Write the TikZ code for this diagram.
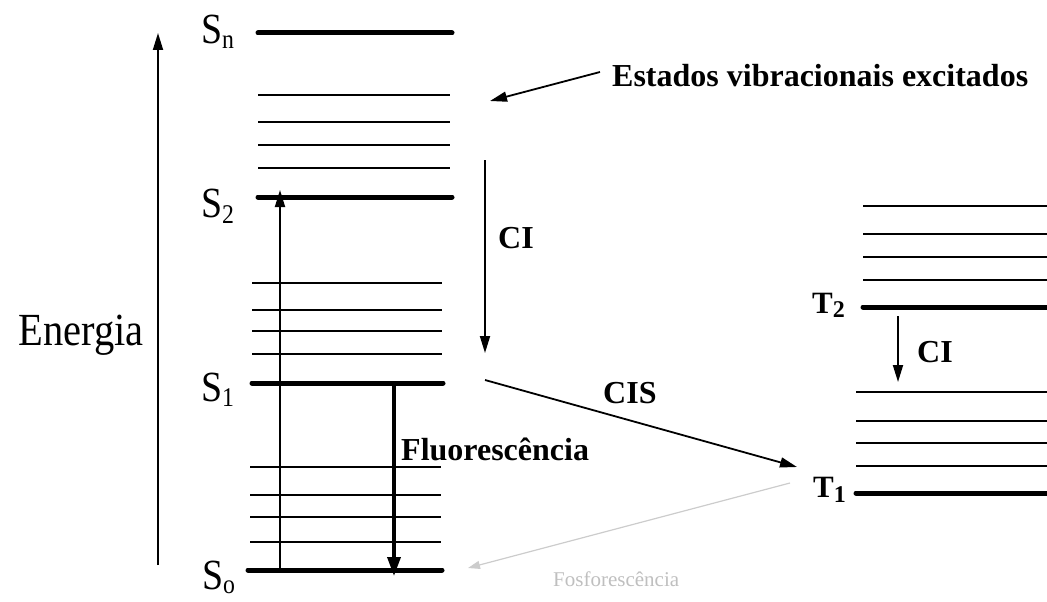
\documentclass[tikz,border=0pt]{standalone}
\usepackage{fontspec}
\setmainfont{Liberation Serif}
\usetikzlibrary{arrows.meta}
\newcommand\nrw[1]{\scalebox{0.88}[1]{#1}}
\begin{document}
\begin{tikzpicture}[x=1pt,y=-1pt,
  lvl/.style={line width=5pt, line cap=round},
  vib/.style={line width=2pt},
  arr/.style={line width=1.8pt,-{Triangle[length=17pt,width=10pt]}},
  fluo/.style={line width=3.5pt,-{Triangle[length=19pt,width=13pt]}},
  faint/.style={line width=1.2pt, draw=black!20,-{Triangle[length=12pt,width=8pt]}},
  blab/.style={font=\fontsize{32}{32}\selectfont\bfseries, inner sep=0pt, anchor=base west},
  tlab/.style={font=\fontsize{31}{31}\selectfont\bfseries, inner sep=0pt, anchor=base west},
  slab/.style={font=\fontsize{43}{43}\selectfont, inner sep=0pt, anchor=base west}]
\useasboundingbox (0,0) rectangle (1047,602);
% singlet levels
\draw[lvl] (258,33) -- (452,33);
\foreach \y in {95,122,145,168} \draw[vib] (258,\y) -- (450,\y);
\draw[lvl] (258,197) -- (452,197);
\foreach \y in {283,310,331,354} \draw[vib] (252,\y) -- (442,\y);
\draw[lvl] (252,383) -- (443,383);
\foreach \y in {467,495,517,542} \draw[vib] (250,\y) -- (441,\y);
\draw[lvl] (248,570) -- (442,570);
% triplet levels
\foreach \y in {206,234,257,280} \draw[vib] (863,\y) -- (1047,\y);
\draw[lvl] (863,307) -- (1047,307);
\foreach \y in {392,421,443,466} \draw[vib] (856,\y) -- (1047,\y);
\draw[lvl] (856,493) -- (1047,493);
% coordinates
\coordinate (e0) at (158,565); \coordinate (e1) at (158,33);
\coordinate (a0) at (280,570); \coordinate (a1) at (280,190);
\coordinate (f0) at (394,383); \coordinate (f1) at (394,576);
\coordinate (c0) at (485,160); \coordinate (c1) at (485,353);
\coordinate (v0) at (600,72);  \coordinate (v1) at (490,101);
\coordinate (i0) at (485,380); \coordinate (i1) at (797,467);
\coordinate (t0) at (898,316); \coordinate (t1) at (898,382);
\coordinate (p0) at (790,483); \coordinate (p1) at (468,568);
% arrows
\draw[arr] (e0) -- (e1);
\draw[arr] (a0) -- (a1);
\draw[fluo] (f0) -- (f1);
\draw[arr] (c0) -- (c1);
\draw[arr] (v0) -- (v1);
\draw[arr] (i0) -- (i1);
\draw[arr] (t0) -- (t1);
\draw[faint] (p0) -- (p1);
% labels
\node[font=\fontsize{46}{46}\selectfont, inner sep=0pt, anchor=base] (en) at (81,345) {\nrw{Energia}};
\node[slab] (sn) at (201,44) {\nrw{S\raisebox{-5pt}{\fontsize{27}{27}\selectfont n}}};
\node[slab] (s2) at (201,217) {\nrw{S\raisebox{-6pt}{\fontsize{27}{27}\selectfont 2}}};
\node[slab] (s1) at (201,401) {\nrw{S\raisebox{-5pt}{\fontsize{27}{27}\selectfont 1}}};
\node[slab] (s0) at (202,589) {\nrw{S\raisebox{-4pt}{\fontsize{27}{27}\selectfont o}}};
\node[tlab] (T2) at (812,313) {T\raisebox{-4pt}{\fontsize{24}{24}\selectfont 2}};
\node[tlab] (T1) at (813,497) {T\raisebox{-5pt}{\fontsize{24}{24}\selectfont 1}};
\node[blab] (est) at (612,87) {Estados vibracionais excitados};
\node[blab] (ci) at (498,248) {CI};
\node[blab] (cis) at (603,403) {CIS};
\node[blab] (ci2) at (917,362) {CI};
\node[blab] (flu) at (401,460) {Fluorescência};
\node[font=\fontsize{21}{21}\selectfont, text=black!25, inner sep=0pt, anchor=base west] (fos) at (553,586) {Fosforescência};
\end{tikzpicture}
\end{document}
